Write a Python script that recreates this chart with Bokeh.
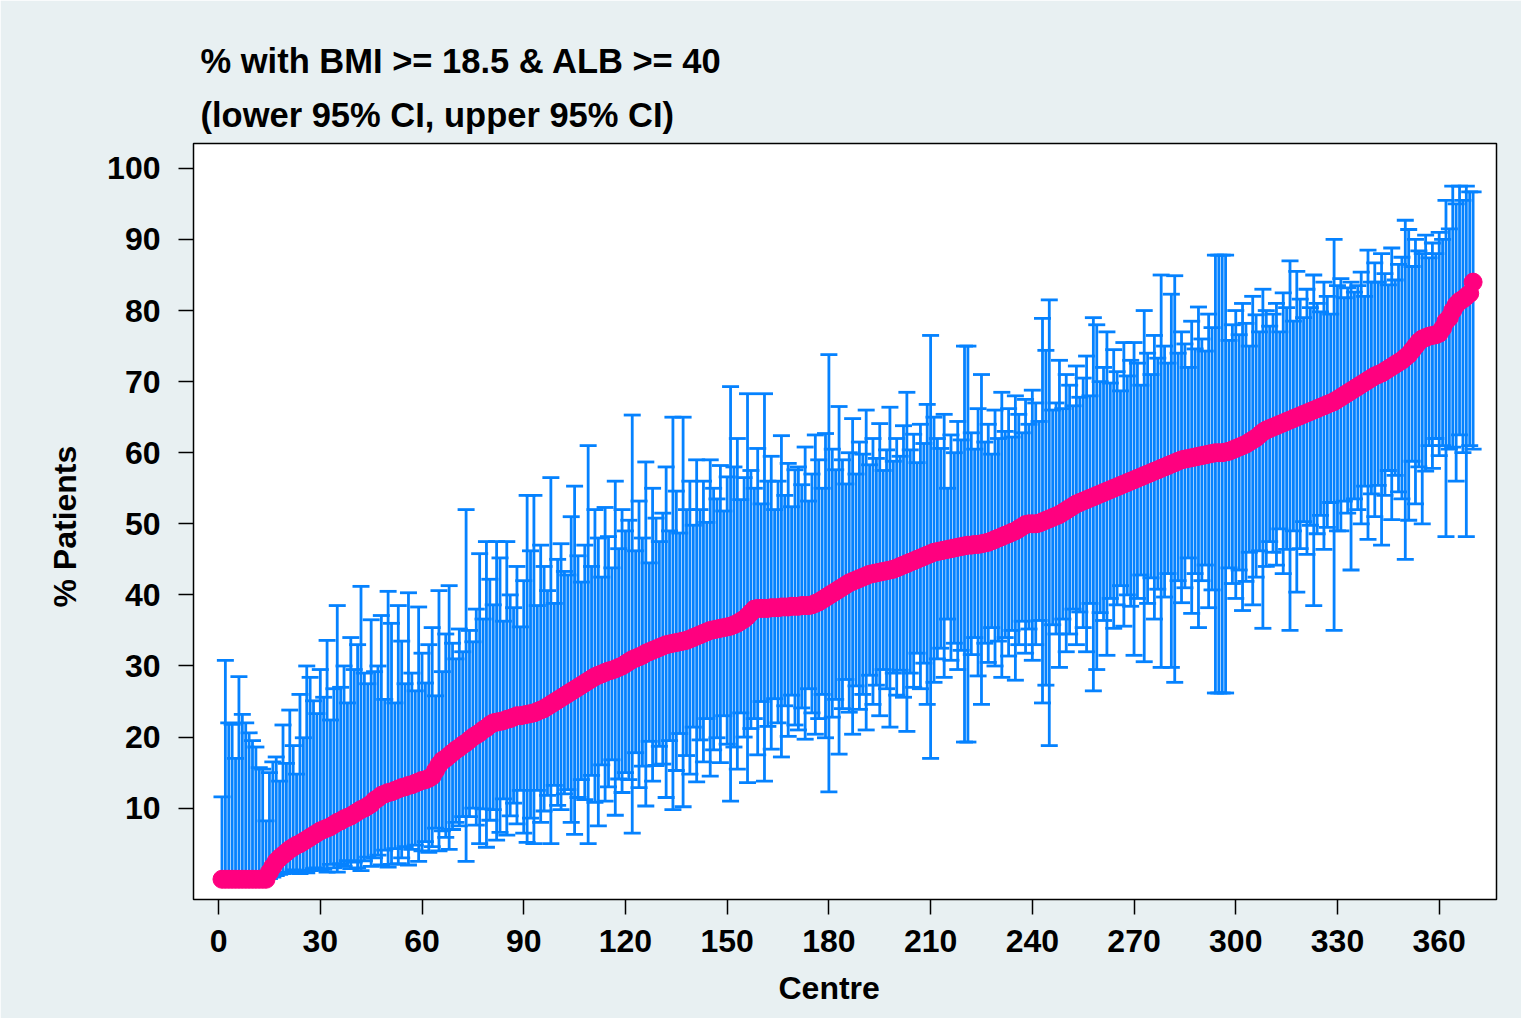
from bokeh.plotting import figure
from bokeh.models import ColumnDataSource, Whisker, TeeHead, FixedTicker, Title, Range1d
from bokeh.embed import file_html
from bokeh.resources import INLINE

# ---------------- data ----------------
centre = list(range(1, 371))

pct = [
    0, 0, 0, 0, 0, 0, 0, 0, 0, 0,
    0, 0, 0, 0, 1.0, 1.8, 2.5, 3.0, 3.4, 3.8,
    4.2, 4.5, 4.8, 5.0, 5.3, 5.6, 5.9, 6.2, 6.5, 6.8,
    7.0, 7.2, 7.4, 7.7, 8.0, 8.2, 8.5, 8.7, 8.9, 9.2,
    9.5, 9.8, 10.0, 10.3, 10.6, 11.1, 11.4, 11.8, 12.0, 12.2,
    12.3, 12.5, 12.7, 12.9, 13.0, 13.2, 13.3, 13.5, 13.7, 13.9,
    14.0, 14.2, 14.5, 15.3, 16.1, 16.7, 17.0, 17.4, 17.8, 18.2,
    18.5, 18.9, 19.2, 19.6, 20.0, 20.3, 20.6, 21.0, 21.3, 21.7,
    22.0, 22.1, 22.2, 22.3, 22.5, 22.6, 22.8, 23.0, 23.0, 23.1,
    23.2, 23.3, 23.4, 23.6, 23.8, 24.0, 24.3, 24.6, 24.9, 25.2,
    25.5, 25.8, 26.1, 26.4, 26.7, 27.0, 27.3, 27.6, 27.9, 28.2,
    28.5, 28.7, 28.9, 29.1, 29.3, 29.4, 29.6, 29.8, 30.0, 30.3,
    30.6, 30.9, 31.1, 31.3, 31.5, 31.8, 32.0, 32.2, 32.4, 32.6,
    32.8, 33.0, 33.1, 33.2, 33.3, 33.4, 33.5, 33.6, 33.8, 34.0,
    34.2, 34.4, 34.6, 34.8, 35.0, 35.1, 35.2, 35.3, 35.4, 35.5,
    35.6, 35.8, 36.0, 36.3, 36.6, 37.0, 37.5, 38.0, 38.1, 38.1,
    38.1, 38.1, 38.2, 38.2, 38.2, 38.3, 38.3, 38.3, 38.4, 38.4,
    38.4, 38.5, 38.5, 38.5, 38.6, 38.8, 39.0, 39.3, 39.6, 39.9,
    40.2, 40.5, 40.8, 41.1, 41.4, 41.7, 41.9, 42.1, 42.3, 42.5,
    42.7, 42.9, 43.0, 43.1, 43.2, 43.3, 43.4, 43.5, 43.6, 43.8,
    44.0, 44.2, 44.4, 44.6, 44.8, 45.0, 45.2, 45.4, 45.6, 45.8,
    46.0, 46.1, 46.2, 46.3, 46.4, 46.5, 46.6, 46.7, 46.8, 46.9,
    47.0, 47.0, 47.1, 47.1, 47.2, 47.3, 47.4, 47.6, 47.8, 48.0,
    48.2, 48.4, 48.6, 48.8, 49.0, 49.3, 49.6, 49.9, 50.0, 50.0,
    50.0, 50.1, 50.3, 50.5, 50.7, 50.9, 51.1, 51.3, 51.6, 51.9,
    52.2, 52.5, 52.8, 53.0, 53.2, 53.4, 53.6, 53.8, 54.0, 54.2,
    54.4, 54.6, 54.8, 55.0, 55.2, 55.4, 55.6, 55.8, 56.0, 56.2,
    56.4, 56.6, 56.8, 57.0, 57.2, 57.4, 57.6, 57.8, 58.0, 58.2,
    58.4, 58.6, 58.8, 59.0, 59.1, 59.2, 59.3, 59.4, 59.5, 59.6,
    59.7, 59.8, 59.9, 60.0, 60.0, 60.0, 60.1, 60.2, 60.4, 60.6,
    60.8, 61.0, 61.2, 61.5, 61.8, 62.1, 62.5, 62.9, 63.2, 63.4,
    63.6, 63.8, 64.0, 64.2, 64.4, 64.6, 64.8, 65.0, 65.2, 65.4,
    65.6, 65.8, 66.0, 66.2, 66.4, 66.6, 66.8, 67.0, 67.2, 67.5,
    67.8, 68.1, 68.4, 68.7, 69.0, 69.3, 69.6, 69.9, 70.2, 70.5,
    70.8, 71.0, 71.2, 71.5, 71.8, 72.1, 72.4, 72.7, 73.0, 73.4,
    73.8, 74.4, 75.0, 75.6, 76.0, 76.2, 76.4, 76.5, 76.6, 76.8,
    77.5, 78.5, 79.0, 80.0, 80.8, 81.3, 81.6, 82.0, 82.4, 84.0,
]

upper_ci = [
    11.6, 30.8, 22.0, 21.8, 17.0, 28.5, 23.2, 22.0, 20.6, 19.5,
    18.6, 15.7, 15.5, 8.2, 15.0, 16.5, 17.2, 13.8, 21.7, 16.3,
    23.8, 18.8, 14.8, 26.0, 19.9, 30.0, 28.4, 25.1, 23.3, 29.5,
    25.6, 33.6, 22.4, 26.8, 38.5, 27.0, 30.0, 24.8, 34.0, 29.5,
    33.0, 41.2, 29.0, 27.5, 36.5, 29.2, 30.0, 37.1, 25.3, 40.5,
    36.0, 24.8, 38.5, 33.5, 27.5, 40.3, 29.0, 26.5, 38.3, 31.8,
    27.6, 33.0, 35.4, 25.8, 40.6, 29.2, 34.5, 41.3, 33.2, 31.0,
    35.2, 32.0, 52.0, 35.0, 33.4, 38.0, 45.8, 36.6, 47.5, 42.2,
    38.6, 47.5, 45.2, 36.3, 47.5, 40.0, 38.2, 44.0, 35.5, 42.0,
    54.0, 46.2, 54.0, 38.5, 47.0, 44.0, 40.6, 56.5, 38.8, 45.0,
    47.2, 43.3, 42.8, 51.0, 55.3, 45.5, 41.8, 47.0, 61.0, 44.0,
    52.0, 48.0, 42.5, 52.3, 48.2, 43.8, 56.0, 46.5, 52.0, 49.0,
    50.5, 65.3, 46.2, 53.2, 48.0, 58.7, 44.5, 55.0, 50.8, 47.5,
    51.5, 58.0, 49.0, 65.0, 54.6, 48.7, 65.0, 52.0, 56.0, 49.8,
    59.0, 52.0, 56.0, 50.2, 59.0, 55.0, 53.5, 58.2, 51.8, 56.6,
    69.3, 58.0, 62.0, 53.4, 56.5, 68.3, 57.5, 55.0, 60.6, 52.8,
    68.3, 56.0, 59.5, 52.0, 56.0, 62.4, 54.0, 58.5, 52.4, 57.6,
    58.0, 55.5, 60.8, 53.2, 57.0, 62.5, 59.0, 55.0, 62.7, 73.8,
    60.5, 57.6, 66.5, 59.0, 55.6, 60.0, 64.8, 57.0, 61.5, 59.8,
    66.0, 58.3, 62.0, 59.2, 64.1, 57.5, 60.4, 66.4, 58.8, 62.0,
    59.5, 63.8, 68.5, 60.4, 62.6, 58.6, 64.0, 61.3, 66.8, 76.5,
    65.0, 62.0, 60.6, 65.4, 55.0, 62.5, 60.0, 64.4, 61.8, 75.0,
    75.0, 62.8, 60.5, 66.2, 71.0, 61.5, 64.0, 59.8, 66.0, 62.0,
    68.5, 63.0, 66.2, 62.2, 68.0, 65.4, 62.8, 67.5, 64.0, 68.8,
    67.0, 64.4, 78.9, 74.4, 81.5, 66.0, 67.0, 73.0, 66.2, 71.0,
    69.5, 66.6, 72.2, 67.8, 70.5, 73.6, 68.0, 79.0, 78.0, 70.0,
    72.0, 77.0, 69.8, 74.5, 71.4, 68.7, 75.5, 70.8, 73.0, 75.5,
    72.6, 69.5, 80.0, 74.0, 71.0, 76.5, 73.3, 85.0, 75.0, 72.6,
    82.3, 84.9, 74.0, 77.0, 75.3, 72.0, 78.5, 74.6, 80.5, 76.0,
    74.3, 79.5, 77.6, 87.8, 87.8, 87.8, 87.8, 75.8, 78.0, 80.0,
    76.6, 81.0, 78.2, 75.0, 82.0, 79.4, 77.0, 83.0, 80.0, 77.8,
    79.5, 81.0, 77.0, 82.5, 80.4, 87.0, 78.5, 85.5, 81.6, 79.0,
    83.0, 80.4, 85.0, 81.0, 79.8, 84.0, 82.0, 79.5, 90.0, 83.5,
    84.5, 81.8, 83.2, 84.0, 82.6, 83.5, 85.4, 82.0, 88.5, 84.0,
    86.7, 84.0, 88.0, 85.2, 83.6, 88.8, 84.3, 86.5, 87.5, 92.7,
    91.4, 86.2, 90.0, 88.4, 88.0, 90.6, 87.4, 89.5, 88.0, 91.0,
    90.0, 95.5, 91.5, 97.5, 95.0, 97.5, 95.5, 97.5, 96.7, 96.7,
]

lower_ci = [
    0, 0, 0, 0, 0, 0, 0, 0, 0, 0,
    0, 0, 0, 0, 0.1, 0.3, 0.5, 0.7, 0.8, 1.0,
    0.9, 1.3, 1.0, 0.8, 1.2, 0.9, 1.2, 1.5, 1.6, 1.3,
    1.4, 1.0, 2.1, 1.6, 1.0, 2.2, 1.8, 2.6, 1.5, 2.4,
    1.6, 1.2, 2.6, 3.1, 1.8, 3.0, 3.4, 2.0, 4.1, 1.7,
    2.1, 4.3, 2.2, 3.0, 4.6, 2.0, 4.2, 4.8, 2.5, 4.0,
    5.3, 3.8, 4.6, 7.2, 4.0, 6.8, 5.9, 4.2, 7.0, 8.0,
    7.5, 8.8, 2.5, 8.8, 10.0, 7.6, 5.0, 9.9, 4.5, 8.3,
    9.8, 5.5, 6.6, 11.3, 6.2, 8.9, 10.7, 7.8, 12.5, 6.5,
    5.2, 8.6, 5.0, 12.5, 8.0, 9.6, 11.8, 5.0, 13.2, 10.4,
    9.8, 12.0, 12.6, 8.0, 6.3, 11.5, 14.0, 11.2, 5.0, 14.6,
    10.8, 7.5, 16.1, 11.0, 13.0, 16.8, 9.0, 14.1, 12.2, 15.0,
    14.0, 6.5, 17.8, 12.9, 15.9, 10.3, 19.4, 13.8, 16.0, 18.7,
    16.2, 11.5, 19.5, 9.8, 15.3, 20.5, 10.2, 17.4, 14.8, 21.4,
    13.7, 19.6, 16.5, 22.6, 14.5, 18.2, 19.9, 16.4, 23.0, 19.0,
    11.0, 18.6, 15.5, 23.4, 20.0, 13.6, 21.2, 22.6, 17.5, 25.0,
    13.8, 21.5, 18.3, 25.4, 22.0, 17.2, 24.4, 20.1, 25.9, 21.7,
    21.0, 24.1, 19.7, 26.8, 23.4, 20.4, 22.6, 26.0, 19.9, 12.3,
    22.8, 25.3, 17.6, 24.0, 28.1, 23.5, 20.4, 27.2, 23.9, 26.0,
    21.0, 28.7, 24.6, 27.3, 23.0, 29.5, 26.8, 21.4, 29.0, 25.9,
    29.4, 25.6, 20.8, 29.0, 27.0, 31.8, 26.8, 30.4, 24.6, 17.0,
    27.7, 31.0, 32.5, 28.4, 36.6, 30.8, 33.2, 29.5, 32.2, 19.3,
    19.3, 31.6, 34.0, 28.6, 24.6, 33.2, 30.5, 35.4, 30.0, 33.5,
    28.4, 34.0, 31.4, 35.0, 28.0, 33.0, 36.3, 31.8, 35.2, 30.8,
    33.0, 36.4, 24.8, 27.3, 18.8, 35.8, 34.5, 29.8, 36.6, 32.0,
    34.5, 38.0, 33.0, 37.6, 35.4, 32.0, 38.8, 26.5, 29.5, 37.5,
    36.4, 31.5, 39.5, 35.3, 38.6, 41.3, 35.6, 40.0, 38.4, 31.5,
    39.5, 42.8, 30.6, 38.8, 42.4, 36.6, 40.8, 29.8, 39.7, 43.0,
    29.8, 27.7, 42.0, 38.9, 41.0, 45.2, 37.4, 43.0, 35.4, 42.0,
    44.2, 38.2, 40.7, 26.2, 26.2, 26.2, 26.2, 43.8, 41.6, 39.5,
    43.5, 37.8, 41.9, 46.0, 38.6, 42.5, 46.2, 35.3, 44.0, 47.5,
    46.0, 44.2, 49.3, 43.0, 46.4, 35.0, 49.0, 40.4, 46.5, 50.3,
    45.7, 49.8, 38.5, 48.6, 51.2, 46.4, 49.5, 53.0, 35.0, 49.0,
    49.0, 53.2, 51.5, 43.5, 53.5, 52.0, 50.0, 55.3, 47.8, 54.2,
    51.0, 55.4, 47.0, 54.0, 57.5, 50.6, 56.8, 54.5, 53.5, 45.0,
    50.5, 58.8, 52.8, 58.0, 50.0, 57.4, 61.0, 57.8, 62.0, 59.6,
    61.0, 48.2, 60.5, 60.8, 56.0, 62.5, 60.0, 48.2, 61.0, 60.5,
]

x_ticks = [0, 30, 60, 90, 120, 150, 180, 210, 240, 270, 300, 330, 360]
y_ticks = [10, 20, 30, 40, 50, 60, 70, 80, 90, 100]

title_line1 = "% with BMI >= 18.5 & ALB >= 40"
title_line2 = "(lower 95% CI, upper 95% CI)"
x_label = "Centre"
y_label = "% Patients"

# ---------------- styling ----------------
BG = "#e8f0f2"
BLUE = "#0582ff"
PINK = "#ff007f"
FONT = "Liberation Sans"

src = ColumnDataSource(data=dict(centre=centre, pct=pct, lower=lower_ci, upper=upper_ci))

p = figure(
    width=1521, height=1018,
    output_backend="svg", toolbar_location=None,
    x_range=Range1d(-7.4, 376.9), y_range=Range1d(-2.85, 103.5),
    min_border_left=193, min_border_right=25, min_border_top=143, min_border_bottom=119,
)
p.background_fill_color = "white"
p.border_fill_color = BG
p.outline_line_color = "black"
p.outline_line_width = 1.5
p.grid.visible = False

def bold_title(text, **kw):
    return Title(text=text, text_font=FONT, text_font_style="bold",
                 text_color="black", **kw)

p.add_layout(bold_title(title_line2, align="left", offset=7,
                        text_font_size="34.5px", standoff=20), "above")
p.add_layout(bold_title(title_line1, align="left", offset=7,
                        text_font_size="34.5px", standoff=8), "above")

wh = Whisker(source=src, base="centre", upper="upper", lower="lower",
             line_color=BLUE, line_width=2.8, level="underlay",
             upper_head=TeeHead(size=17, line_color=BLUE, line_width=2.8),
             lower_head=TeeHead(size=17, line_color=BLUE, line_width=2.8))
p.add_layout(wh)

p.scatter("centre", "pct", source=src, size=18, color=PINK, line_color=PINK)

for ax in (p.xaxis[0], p.yaxis[0]):
    ax.axis_line_color = None
    ax.major_tick_in = 0
    ax.major_tick_out = 15
    ax.major_tick_line_color = "black"
    ax.major_tick_line_width = 1.5
    ax.minor_tick_line_color = None
    ax.major_label_text_font = FONT
    ax.major_label_text_font_size = "32px"
    ax.major_label_text_font_style = "bold"
    ax.major_label_text_color = "black"

p.xaxis[0].ticker = FixedTicker(ticks=x_ticks)
p.yaxis[0].ticker = FixedTicker(ticks=y_ticks)
p.xaxis[0].major_label_standoff = 15
p.yaxis[0].major_label_standoff = 18

# axis titles (slightly off-centre, as in the reference)
p.add_layout(bold_title(x_label, align="left", offset=585,
                        text_font_size="32px", standoff=26), "below")
p.add_layout(bold_title(y_label, align="left", offset=292,
                        text_font_size="32px", standoff=44), "left")

open("out.html", "w").write(file_html(p, INLINE))
